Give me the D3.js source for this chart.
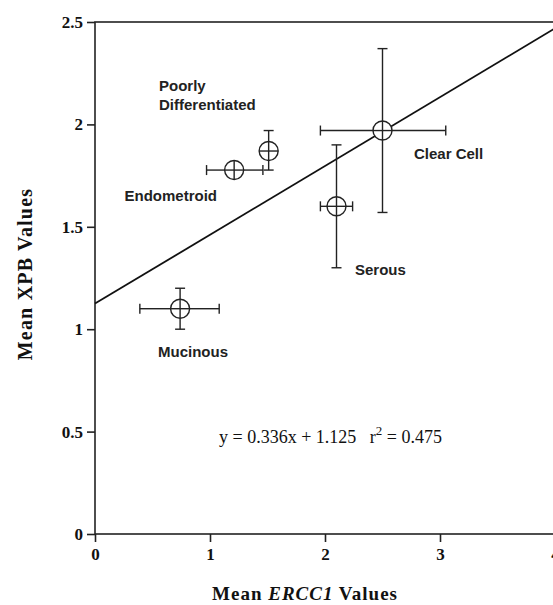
<!DOCTYPE html>
<html>
<head>
<meta charset="utf-8">
<script src="https://cdn.jsdelivr.net/npm/d3@7"></script>
<style>
  body { margin: 0; background: #fff; }
  svg { display: block; }
  .axis path, .axis line { stroke: #222; stroke-width: 1.6; }
  .axis text { font-family: "Liberation Serif", "Times New Roman", serif; font-weight: bold; font-size: 17px; fill: #111; }
  .lbl { font-family: "Liberation Sans", Arial, sans-serif; font-weight: bold; font-size: 15px; fill: #222; }
</style>
</head>
<body>
<div id="chart"></div>
<script>
// group means with error bar extents
var groups = ["Clear Cell", "Serous", "Poorly Differentiated", "Endometroid", "Mucinous"],
    meanX = [2.5, 2.1, 1.51, 1.21, 0.74],
    meanY = [1.97, 1.6, 1.87, 1.777, 1.1],
    xLo = [1.96, 1.96, 1.51, 0.97, 0.39],
    xHi = [3.05, 2.24, 1.51, 1.46, 1.08],
    yLo = [1.57, 1.3, 1.777, 1.777, 1.0],
    yHi = [2.37, 1.9, 1.97, 1.777, 1.2];

var slope = 0.336, intercept = 1.125, r2 = 0.475;

var xTicks = [0, 1, 2, 3, 4],
    yTicks = [0, 0.5, 1, 1.5, 2, 2.5];

var width = 553, height = 605;

var x = d3.scaleLinear().domain([0, 4]).range([95, 555]);
var y = d3.scaleLinear().domain([0, 2.5]).range([534, 22]);

var svg = d3.select("#chart").append("svg")
    .attr("width", width)
    .attr("height", height);

// frame (top and right edge; right runs off the page)
svg.append("rect")
    .attr("x", x(0)).attr("y", y(2.5))
    .attr("width", x(4) - x(0)).attr("height", y(0) - y(2.5))
    .attr("fill", "none").attr("stroke", "#222").attr("stroke-width", 1.6);

svg.append("g")
    .attr("class", "axis")
    .attr("transform", "translate(0," + y(0) + ")")
    .call(d3.axisBottom(x).tickValues(xTicks).tickSizeInner(8).tickSizeOuter(0).tickPadding(6).tickFormat(d3.format("d")))
    .call(function(g) { g.select(".domain").remove(); });

svg.append("g")
    .attr("class", "axis")
    .attr("transform", "translate(" + x(0) + ",0)")
    .call(d3.axisLeft(y).tickValues(yTicks).tickSizeInner(8).tickSizeOuter(0).tickPadding(4).tickFormat(function(d) { return d; }))
    .call(function(g) { g.select(".domain").remove(); });

// regression line
svg.append("line")
    .attr("x1", x(0)).attr("y1", y(intercept))
    .attr("x2", x(4)).attr("y2", y(intercept + slope * 4))
    .attr("stroke", "#111").attr("stroke-width", 1.8);

var cap = 5, r = 9.5;

var pts = svg.selectAll(".pt")
    .data(groups)
  .enter().append("g")
    .attr("class", "pt")
    .attr("stroke", "#222")
    .attr("stroke-width", 1.4)
    .attr("fill", "none");

pts.each(function(d, i) {
  var g = d3.select(this),
      cx = x(meanX[i]), cy = y(meanY[i]);
  if (xHi[i] > xLo[i]) {
    if (x(xLo[i]) < cx - r) {
      g.append("line").attr("x1", x(xLo[i])).attr("x2", cx - r).attr("y1", cy).attr("y2", cy);
      g.append("line").attr("x1", x(xLo[i])).attr("x2", x(xLo[i])).attr("y1", cy - cap).attr("y2", cy + cap);
    }
    if (x(xHi[i]) > cx + r) {
      g.append("line").attr("x1", cx + r).attr("x2", x(xHi[i])).attr("y1", cy).attr("y2", cy);
      g.append("line").attr("x1", x(xHi[i])).attr("x2", x(xHi[i])).attr("y1", cy - cap).attr("y2", cy + cap);
    }
  }
  if (yHi[i] > yLo[i]) {
    if (y(yHi[i]) < cy - r) {
      g.append("line").attr("x1", cx).attr("x2", cx).attr("y1", y(yHi[i])).attr("y2", cy - r);
      g.append("line").attr("x1", cx - cap).attr("x2", cx + cap).attr("y1", y(yHi[i])).attr("y2", y(yHi[i]));
    }
    if (y(yLo[i]) > cy + r) {
      g.append("line").attr("x1", cx).attr("x2", cx).attr("y1", cy + r).attr("y2", y(yLo[i]));
      g.append("line").attr("x1", cx - cap).attr("x2", cx + cap).attr("y1", y(yLo[i])).attr("y2", y(yLo[i]));
    }
  }
  g.append("circle").attr("cx", cx).attr("cy", cy).attr("r", r).attr("fill", "#fff");
  g.append("line").attr("x1", cx - r).attr("x2", cx + r).attr("y1", cy).attr("y2", cy);
  g.append("line").attr("x1", cx).attr("x2", cx).attr("y1", cy - r).attr("y2", cy + r);
});

// group labels
var labels = [
  {t: ["Poorly", "Differentiated"], x: 159, y: 91, a: "start"},
  {t: ["Endometroid"], x: 217, y: 201, a: "end"},
  {t: ["Clear Cell"], x: 414, y: 159, a: "start"},
  {t: ["Serous"], x: 355, y: 275, a: "start"},
  {t: ["Mucinous"], x: 158, y: 357, a: "start"}
];

labels.forEach(function(l) {
  var t = svg.append("text").attr("class", "lbl")
      .attr("x", l.x).attr("y", l.y).attr("text-anchor", l.a);
  l.t.forEach(function(s, j) {
    t.append("tspan").attr("x", l.x).attr("dy", j ? 19 : 0).text(s);
  });
});

// equation
var eq = svg.append("text")
    .attr("x", 219).attr("y", 443)
    .style("font-family", "'Liberation Serif', 'Times New Roman', serif")
    .style("font-size", "18px")
    .attr("fill", "#111");
eq.append("tspan").text("y = " + slope + "x + " + intercept + "\u00a0\u00a0\u00a0r");
eq.append("tspan").attr("dy", -8).style("font-size", "13px").text("2");
eq.append("tspan").attr("dy", 8).text(" = " + r2);

// axis titles
var xt = svg.append("text")
    .attr("x", 305).attr("y", 600)
    .attr("text-anchor", "middle")
    .style("font-family", "'Liberation Serif', 'Times New Roman', serif")
    .style("font-weight", "bold")
    .style("font-size", "19px")
    .style("letter-spacing", "1px")
    .attr("fill", "#111");
xt.append("tspan").text("Mean ");
xt.append("tspan").style("font-style", "italic").text("ERCC1");
xt.append("tspan").text(" Values");

svg.append("text")
    .attr("transform", "translate(32,274) rotate(-90)")
    .attr("text-anchor", "middle")
    .style("font-family", "'Liberation Serif', 'Times New Roman', serif")
    .style("font-weight", "bold")
    .style("font-size", "20px")
    .style("letter-spacing", "1.2px")
    .attr("fill", "#111")
    .text("Mean  XPB  Values");
</script>
</body>
</html>
